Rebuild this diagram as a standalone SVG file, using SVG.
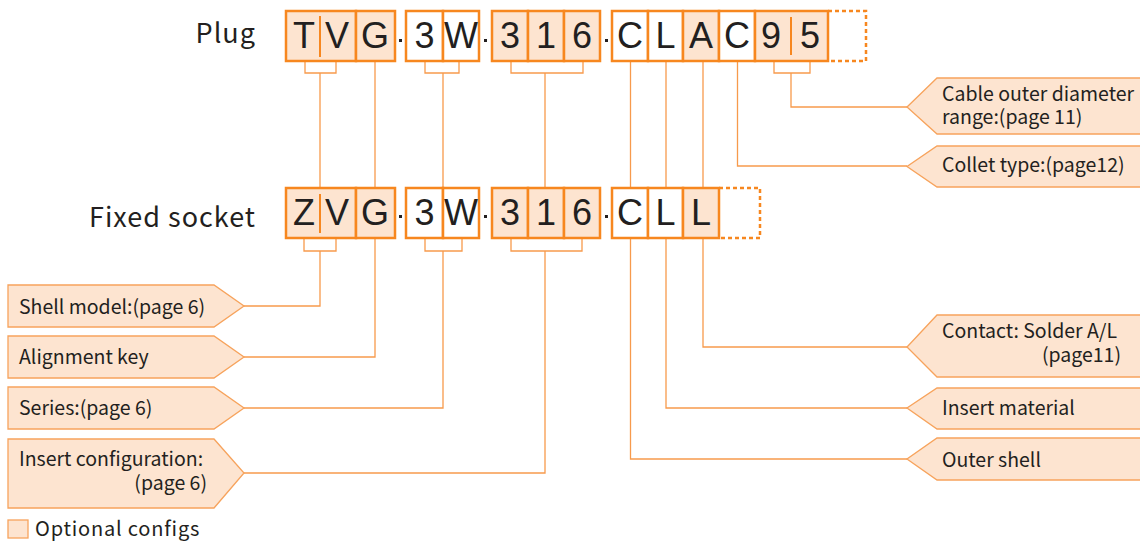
<svg xmlns="http://www.w3.org/2000/svg" width="1140" height="543" viewBox="0 0 1140 543">
<style>
.bg{fill:#ffffff}
.c{stroke:#f7871f;stroke-width:2.5}
.p{fill:#fde4d0}
.w{fill:#ffffff}
.dash{fill:none;stroke:#f7871f;stroke-width:2.5;stroke-dasharray:4 3}
.div{stroke:#f7871f;stroke-width:2}
.ch{font-family:"Liberation Sans",Arial,sans-serif;font-size:36px;fill:#231f20;text-anchor:middle}
.title{font-family:"Noto Sans CJK SC","Noto Sans",sans-serif;font-size:27px;letter-spacing:1px;fill:#231f20;text-anchor:end}
.lbl{font-family:"Noto Sans CJK SC","Noto Sans",sans-serif;font-size:19.5px;fill:#231f20}
.leg{font-family:"Noto Sans CJK SC","Noto Sans",sans-serif;font-size:20px;letter-spacing:0.8px;fill:#231f20}
.co{fill:#fde4d0;stroke:#f7a35c;stroke-width:1.3}
.ln{fill:none;stroke:#f79a4c;stroke-width:1.3}
.dot{fill:#231f20}
</style>
<rect class="bg" x="0" y="0" width="1140" height="543"/>

<g id="connectors">
  <path class="ln" d="M305,61 V73 H336 V61 M320,73 V188"/>
  <path class="ln" d="M375,61 V188"/>
  <path class="ln" d="M425,61 V73 H459 V61 M443,73 V188"/>
  <path class="ln" d="M511,61 V73 H583 V61 M545,73 V188"/>
  <path class="ln" d="M630.5,61 V188"/>
  <path class="ln" d="M666,61 V188"/>
  <path class="ln" d="M703,61 V188"/>
  <path class="ln" d="M737.5,61 V166 H907"/>
  <path class="ln" d="M774,61 V73 H810 V61 M791,73 V107 H907"/>
  <path class="ln" d="M304,238 V251 H336 V238 M320,251 V306 H244"/>
  <path class="ln" d="M375,238 V357 H244"/>
  <path class="ln" d="M425,238 V251 H462 V238 M443,251 V408 H244"/>
  <path class="ln" d="M511,238 V251 H582 V238 M545,251 V473 H244"/>
  <path class="ln" d="M630.5,238 V459 H907"/>
  <path class="ln" d="M666,238 V408 H907"/>
  <path class="ln" d="M703,238 V347 H907"/>
</g>

<g id="title-plug"><text class="title" x="256" y="43">Plug</text></g>
<g id="title-socket"><text class="title" x="256" y="227">Fixed socket</text></g>

<g id="plug-code">
  <rect class="c p" x="286" y="11" width="70" height="50"/>
  <line class="div" x1="320" y1="16" x2="320" y2="57"/>
  <rect class="c p" x="356" y="11" width="39" height="50"/>
  <rect class="c w" x="406" y="11" width="37" height="50"/>
  <rect class="c w" x="443" y="11" width="36" height="50"/>
  <rect class="c p" x="492" y="11" width="36" height="50"/>
  <rect class="c p" x="528" y="11" width="36" height="50"/>
  <rect class="c p" x="564" y="11" width="36" height="50"/>
  <rect class="c w" x="612" y="11" width="36" height="50"/>
  <rect class="c w" x="648" y="11" width="35" height="50"/>
  <rect class="c p" x="683" y="11" width="36" height="50"/>
  <rect class="c w" x="719" y="11" width="36" height="50"/>
  <rect class="c p" x="755" y="11" width="73" height="50"/>
  <line class="div" x1="791" y1="17" x2="791" y2="55"/>
  <path class="dash" d="M828,11 H866 V61 H828"/>
  <rect class="dot" x="399" y="39" width="3" height="3"/>
  <rect class="dot" x="484" y="39" width="3" height="3"/>
  <rect class="dot" x="605" y="39" width="3" height="3"/>
  <text class="ch" x="304" y="48">T</text>
  <text class="ch" x="337" y="48">V</text>
  <text class="ch" x="375" y="48">G</text>
  <text class="ch" x="424.5" y="48">3</text>
  <text class="ch" x="461" y="48">W</text>
  <text class="ch" x="510" y="48">3</text>
  <text class="ch" x="546" y="48">1</text>
  <text class="ch" x="582" y="48">6</text>
  <text class="ch" x="630" y="48">C</text>
  <text class="ch" x="665.5" y="48">L</text>
  <text class="ch" x="701" y="48">A</text>
  <text class="ch" x="737" y="48">C</text>
  <text class="ch" x="771" y="48">9</text>
  <text class="ch" x="810" y="48">5</text>
</g>

<g id="socket-code">
  <rect class="c p" x="286" y="188" width="70" height="50"/>
  <line class="div" x1="320" y1="194" x2="320" y2="233"/>
  <rect class="c p" x="356" y="188" width="39" height="50"/>
  <rect class="c w" x="406" y="188" width="37" height="50"/>
  <rect class="c w" x="443" y="188" width="36" height="50"/>
  <rect class="c p" x="492" y="188" width="36" height="50"/>
  <rect class="c p" x="528" y="188" width="36" height="50"/>
  <rect class="c p" x="564" y="188" width="36" height="50"/>
  <rect class="c w" x="612" y="188" width="36" height="50"/>
  <rect class="c w" x="648" y="188" width="35" height="50"/>
  <rect class="c p" x="683" y="188" width="36" height="50"/>
  <path class="dash" d="M719,188 H760 V238 H719"/>
  <rect class="dot" x="399" y="215" width="3" height="3"/>
  <rect class="dot" x="484" y="215" width="3" height="3"/>
  <rect class="dot" x="605" y="215" width="3" height="3"/>
  <text class="ch" x="304" y="225">Z</text>
  <text class="ch" x="337" y="225">V</text>
  <text class="ch" x="375" y="225">G</text>
  <text class="ch" x="424.5" y="225">3</text>
  <text class="ch" x="461" y="225">W</text>
  <text class="ch" x="510" y="225">3</text>
  <text class="ch" x="546" y="225">1</text>
  <text class="ch" x="582" y="225">6</text>
  <text class="ch" x="630" y="225">C</text>
  <text class="ch" x="665.5" y="225">L</text>
  <text class="ch" x="701" y="225">L</text>
</g>

<g id="callout-cable">
  <polygon class="co" points="1142,78 937,78 907,107 937,134 1142,134"/>
  <text class="lbl" x="942" y="101">Cable outer diameter</text>
  <text class="lbl" x="942" y="124">range:(page 11)</text>
</g>
<g id="callout-collet">
  <polygon class="co" points="1142,146 937,146 907,166.5 937,187 1142,187"/>
  <text class="lbl" x="942" y="172">Collet type:(page12)</text>
</g>
<g id="callout-contact">
  <polygon class="co" points="1142,315 937,315 907,347 937,377 1142,377"/>
  <text class="lbl" x="942" y="338">Contact: Solder A/L</text>
  <text class="lbl" x="1121" y="362" text-anchor="end">(page11)</text>
</g>
<g id="callout-insert-material">
  <polygon class="co" points="1142,388 937,388 907,408 937,429 1142,429"/>
  <text class="lbl" x="942" y="415">Insert material</text>
</g>
<g id="callout-outer-shell">
  <polygon class="co" points="1142,438 937,438 907,459 937,480 1142,480"/>
  <text class="lbl" x="942" y="467">Outer shell</text>
</g>

<g id="callout-shell-model">
  <polygon class="co" points="8,285 214,285 244,306 214,327 8,327"/>
  <text class="lbl" x="19" y="314">Shell model:(page 6)</text>
</g>
<g id="callout-alignment">
  <polygon class="co" points="8,336 214,336 244,357 214,378 8,378"/>
  <text class="lbl" x="19" y="364">Alignment key</text>
</g>
<g id="callout-series">
  <polygon class="co" points="8,387 214,387 244,408 214,429 8,429"/>
  <text class="lbl" x="19" y="415">Series:(page 6)</text>
</g>
<g id="callout-insert-config">
  <polygon class="co" points="8,439 214,439 244,473 214,508 8,508"/>
  <text class="lbl" x="19" y="466">Insert configuration:</text>
  <text class="lbl" x="207" y="490" text-anchor="end">(page 6)</text>
</g>

<g id="legend">
  <rect class="co" x="8" y="520" width="20" height="18"/>
  <text class="leg" x="35" y="536">Optional configs</text>
</g>
</svg>
